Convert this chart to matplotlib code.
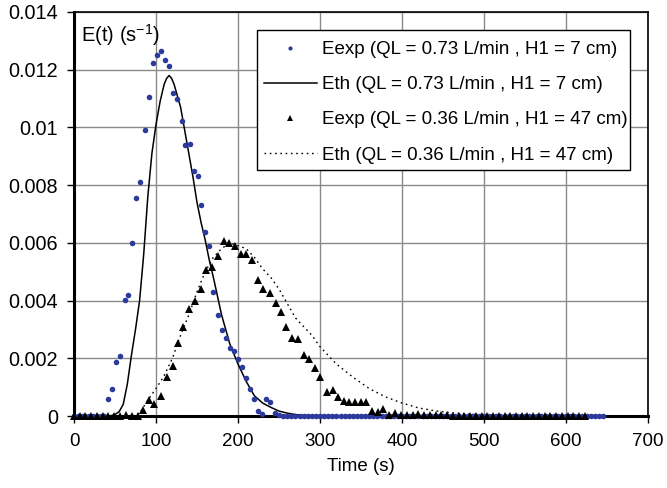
import matplotlib
matplotlib.use("Agg")
import matplotlib.pyplot as plt
from matplotlib.patches import Rectangle

plt.rcParams['font.family'] = ['Liberation Sans', 'DejaVu Sans']
plt.rcParams['mathtext.default'] = 'regular'

# ---- Experimental E(t), QL = 0.73 L/min, H1 = 7 cm (blue dots)
t_exp1 = [0, 4.6, 9.3, 13.9, 18.5, 23.2, 27.8, 32.4, 37.1, 41.7, 46.6, 51.4, 56.3, 61.6,
          66.4, 71.3, 76.2, 81.0, 86.3, 91.1, 96.4, 101.3, 106.1, 111.0, 115.8, 120.7,
          126.0, 131.2, 135.7, 141.0, 145.8, 150.7, 155.0, 160.3, 165.2, 170.0, 175.3,
          180.2, 185.0, 189.9, 194.8, 199.6, 204.9, 209.7, 214.6, 219.8, 224.7, 229.6,
          234.4, 239.6, 245.0, 250.0,
          255, 260, 265, 270, 275, 280, 285, 290, 295, 300, 305, 310, 315, 320, 325, 330,
          335, 340, 345, 350, 355, 360, 365, 370, 375, 380, 385, 390, 395, 400, 405, 410,
          415, 420, 425, 430, 435, 440, 445, 450, 455, 460, 465, 470, 475, 480, 485, 490,
          495, 500, 505, 510, 515, 520, 525, 530, 535, 540, 545, 550, 555, 560, 565, 570,
          575, 580, 585, 590, 595, 600, 605, 610, 615, 620, 625, 630, 635, 640, 645]
e_exp1 = [0, 0, 0, 0, 0, 0, 0, 0, 0, 0.00058, 0.00095, 0.00188, 0.00209, 0.00401,
          0.0042, 0.0060, 0.00755, 0.0081, 0.00991, 0.01104, 0.01222, 0.01251, 0.01264,
          0.01232, 0.01212, 0.01118, 0.01099, 0.01024, 0.0094, 0.00944, 0.0085, 0.00832,
          0.00732, 0.00639, 0.0059, 0.00429, 0.0035, 0.00298, 0.0027, 0.00235, 0.00224,
          0.00198, 0.0017, 0.00133, 0.00094, 0.00058, 0.00016, 0.00006, 0.00058, 0.00048,
          0.0001, 0.00004,
          0, 0, 0, 0, 0, 0, 0, 0, 0, 0, 0, 0, 0, 0, 0, 0,
          0, 0, 0, 0, 0, 0, 0, 0, 0, 0, 0, 0, 0, 0, 0, 0,
          0, 0, 0, 0, 0, 0, 0, 0, 0, 0, 0, 0, 0, 0, 0, 0,
          0, 0, 0, 0, 0, 0, 0, 0, 0, 0, 0, 0, 0, 0, 0, 0,
          0, 0, 0, 0, 0, 0, 0, 0, 0, 0, 0, 0, 0, 0, 0]

# ---- Theoretical E(t), QL = 0.73 L/min, H1 = 7 cm (solid line)
t_th1 = [0, 40, 45, 50, 55, 60, 65, 70, 75, 80, 85, 90, 95, 100, 105, 110, 113, 116,
         119, 122, 125, 130, 135, 140, 145, 150, 155, 160, 165, 170, 180, 190, 200, 210,
         220, 230, 240, 250, 260, 270, 280, 290, 300, 650]
e_th1 = [0, 0, 0.00001, 0.00005, 0.00015, 0.0004, 0.0011, 0.0021, 0.0030, 0.0040,
         0.0056, 0.0076, 0.0091, 0.0101, 0.0109, 0.0115, 0.0117, 0.0118, 0.0117, 0.0115,
         0.0112, 0.0107, 0.0099, 0.0091, 0.0083, 0.0074, 0.0067, 0.0061, 0.0054, 0.0048,
         0.0035, 0.0025, 0.0018, 0.0012, 0.0007, 0.00045, 0.0003, 0.00017, 0.0001,
         0.00005, 0.00002, 0.00001, 0, 0]

# ---- Experimental E(t), QL = 0.36 L/min, H1 = 47 cm (black triangles)
t_exp2 = [0, 7, 14, 21, 28, 35, 42, 49, 56.5, 63.5, 70.8, 77.7, 84.6, 91.9, 97.9, 106.0,
          112.9, 120.2, 126.7, 133.2, 140.5, 147.8, 154.7, 161.5, 168.0, 176.1, 182.6,
          189.0, 196.0, 203.3, 210.1, 217.4, 223.9, 230.8, 238.5, 245.8, 252.2, 258.7,
          266.0, 273.3, 280.2, 287.1, 293.6, 300.5, 308.5, 315.4, 321.9, 328.8, 335.7,
          343.0, 349.8, 355.9, 363.2, 370.5, 377.4, 384.3, 391.6, 398.9,
          406, 413, 420, 427, 434, 441, 448, 455, 462, 469, 476, 483, 490, 497, 504, 511,
          518, 525, 532, 539, 546, 553, 560, 567, 574, 581, 588, 595, 602, 609, 616, 623]
e_exp2 = [0, 0, 0, 0, 0, 0, 0, 0, 0, 0.00003, 0, 0, 0.0002, 0.00055, 0.0004, 0.0007,
          0.00134, 0.00173, 0.00254, 0.00307, 0.00371, 0.00399, 0.0044, 0.00505, 0.00517,
          0.00554, 0.00606, 0.00598, 0.00588, 0.00561, 0.00561, 0.0054, 0.0047, 0.0044,
          0.00425, 0.0039, 0.0036, 0.0031, 0.00272, 0.00266, 0.00211, 0.00197, 0.00165,
          0.00136, 0.00083, 0.0009, 0.00065, 0.00053, 0.00047, 0.0005, 0.0005, 0.00047,
          0.00018, 0.00015, 0.00023, 0.00002, 0.0001, 0.00003,
          0.00002, 0.00003, 0.00007, 0.00002, 0.00003, 0.00002, 0.00003, 0.00002, 0, 0,
          0, 0, 0, 0, 0, 0, 0, 0, 0, 0, 0, 0, 0, 0, 0, 0, 0, 0, 0, 0, 0, 0]

# ---- Theoretical E(t), QL = 0.36 L/min, H1 = 47 cm (dotted line)
t_th2 = [0, 70, 80, 90, 100, 110, 120, 130, 140, 150, 160, 170, 180, 190, 200, 210, 220,
         230, 240, 250, 260, 270, 280, 290, 300, 320, 340, 360, 380, 400, 420, 440, 460,
         480, 500, 550, 600]
e_th2 = [0, 0, 0.0001, 0.00055, 0.00095, 0.0014, 0.0020, 0.0028, 0.0035, 0.0043, 0.0050,
         0.0055, 0.0058, 0.0060, 0.0059, 0.0058, 0.0055, 0.0051, 0.0048, 0.0044, 0.0039,
         0.0034, 0.0031, 0.0028, 0.0024, 0.0018, 0.00135, 0.00095, 0.00066, 0.00045,
         0.00028, 0.00018, 0.00011, 0.00007, 0.00004, 0.00001, 0]

labels = ["Eexp (QL = 0.73 L/min , H1 = 7 cm)",
          "Eth (QL = 0.73 L/min , H1 = 7 cm)",
          "Eexp (QL = 0.36 L/min , H1 = 47 cm)",
          "Eth (QL = 0.36 L/min , H1 = 47 cm)"]
x_ticks = [0, 100, 200, 300, 400, 500, 600, 700]
y_ticks = [0, 0.002, 0.004, 0.006, 0.008, 0.010, 0.012, 0.014]
y_ticklabels = ["0", "0.002", "0.004", "0.006", "0.008", "0.01", "0.012", "0.014"]

W, H = 667, 488
fig = plt.figure(figsize=(W / 100, H / 100), dpi=100)
ax = fig.add_axes([74 / W, 1 - 416 / H, (648 - 74) / W, (416 - 12) / H])

blue = '#2B3A9C'
ax.plot(t_exp1, e_exp1, linestyle='none', marker='o', ms=4.0, color=blue,
        markeredgewidth=0, label=labels[0], zorder=4, clip_on=False)
ax.plot(t_th1, e_th1, '-', color='black', lw=1.1, label=labels[1], zorder=3)
ax.plot(t_exp2, e_exp2, linestyle='none', marker='^', ms=6.0, color='black',
        markeredgewidth=0, label=labels[2], zorder=4, clip_on=False)
ax.plot(t_th2, e_th2, color='black', lw=1.0, linestyle=(0, (1.2, 2.6)),
        label=labels[3], zorder=3)

ax.set_xlim(0, 700)
ax.set_ylim(0, 0.014)
ax.set_xticks(x_ticks)
ax.set_yticks(y_ticks)
ax.set_yticklabels(y_ticklabels)
ax.grid(True, color='#8a8a8a', lw=1.0)
ax.set_axisbelow(True)

for side in ['left', 'bottom']:
    ax.spines[side].set_linewidth(2.2)
for side in ['top', 'right']:
    ax.spines[side].set_linewidth(1.2)
ax.tick_params(direction='out', length=5, width=1, colors='black')
ax.tick_params(axis='y', labelsize=14.3, pad=6.5)
ax.tick_params(axis='x', labelsize=13.5, pad=7)

ax.set_xlabel("Time (s)", fontsize=13.5, labelpad=6)
ax.text(0.012, 0.975, "E(t) (s$^{-1}$)", transform=ax.transAxes, fontsize=14.5,
        va='top', ha='left')

# legend frame drawn as a box, entries placed inside it
box = Rectangle((257 / W, 1 - 170 / H), (630 - 257) / W, (170 - 30) / H,
                transform=fig.transFigure, facecolor='white', edgecolor='black',
                lw=1.0, zorder=6)
ax.add_patch(box)
leg = ax.legend(loc='upper left', bbox_to_anchor=(264 / W, 1 - 41 / H),
                bbox_transform=fig.transFigure, borderaxespad=0, borderpad=0,
                fontsize=13.5, frameon=False, handlelength=2.8, handletextpad=0.3,
                labelspacing=0.96, markerscale=0.75)
leg.set_zorder(7)

fig.savefig("out.png", dpi=100)
